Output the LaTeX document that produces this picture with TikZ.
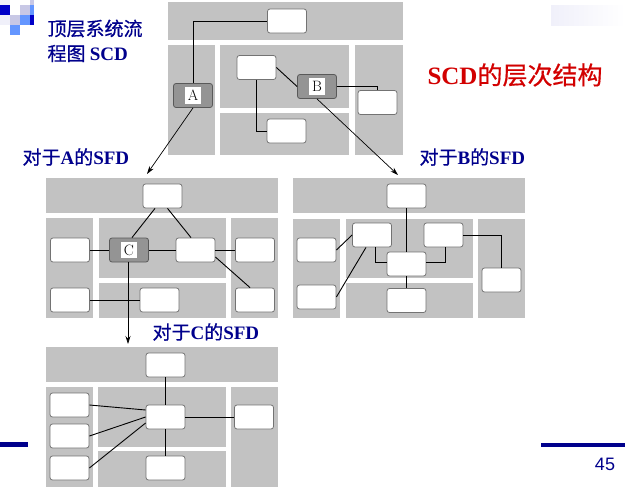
\documentclass[tikz,border=0pt]{standalone}
\usepackage{fontspec}
\newfontfamily\cjk[FakeBold=0.6]{Noto Sans CJK SC}
\newfontfamily\tms{Liberation Serif}
\newfontfamily\arl{Liberation Sans}
\usetikzlibrary{arrows.meta}
\definecolor{navy}{RGB}{0,0,140}
\definecolor{dred}{RGB}{210,0,0}
\definecolor{dkblue}{RGB}{0,0,200}
\definecolor{lav}{RGB}{200,200,230}
\definecolor{cfblue}{RGB}{100,150,255}
\definecolor{pale}{RGB}{240,240,250}
\tikzset{
  box/.style={draw=black!55, line width=0.8pt, fill=white, rounded corners=2.5pt,
    minimum width=39pt, minimum height=24pt, inner sep=0pt},
  gbox/.style={box, fill=black!42, draw=black!65, font=\fontsize{15}{15}\selectfont},
  panel/.style={fill=black!24},
  conn/.style={line width=0.9pt},
  arr/.style={line width=0.7pt, -{Stealth[length=8pt,width=5pt]}}
}
\begin{document}
\begin{tikzpicture}[x=1pt,y=-1pt]
\useasboundingbox (0,0) rectangle (625,490);

\fill[pale] (0,-5) rectangle (10,5);
\fill[lav] (30,-5) rectangle (34,5);
\fill[dkblue] (0,5) rectangle (10,15);
\fill[lav] (20,5) rectangle (30,15);
\fill[cfblue] (30,5) rectangle (34,15);
\fill[pale] (0,15) rectangle (10,25);
\fill[lav] (10,15) rectangle (20,25);
\fill[cfblue] (20,15) rectangle (30,25);
\fill[dkblue] (30,15) rectangle (34,25);
\fill[cfblue] (10,25) rectangle (20,35);
\shade[left color=pale, right color=white] (551,5) rectangle (625,25);

\fill[navy] (0,442) rectangle (28,447);
\fill[navy] (541,443) rectangle (625,447);
\node[navy, font=\arl\fontsize{18}{18}\selectfont] (pg) at (605,464) {45};

\node[navy, anchor=west, font=\fontsize{19}{19}\selectfont] (t1) at (44,28.5) {\cjk 顶层系统流};
\node[navy, anchor=west, font=\fontsize{19}{19}\selectfont] (t2) at (44,53.5) {\cjk 程图 \tms\bfseries SCD};
\node[dred, anchor=west, font=\fontsize{25}{25}\selectfont] (tt) at (424,75) {\tms\bfseries SCD\cjk\mdseries 的层次结构};

% SCD
\fill[panel] (168,2) rectangle (403,40);
\fill[panel] (168,45) rectangle (215,155);
\fill[panel] (220,45) rectangle (349,108);
\fill[panel] (220,113) rectangle (349,155);
\fill[panel] (355,45) rectangle (403,155);

\node[box] (s1) at (287,21) {};
\node[gbox] (sA) at (193,95.5) {\colorbox{white}{A}};
\node[box] (s2) at (256.5,67.5) {};
\node[gbox] (sB) at (317,86.5) {\colorbox{white}{B}};
\node[box] (s3) at (377.5,102.5) {};
\node[box] (s4) at (286.5,131) {};

\draw[conn] (sA.north) |- (s1.west);
\draw[conn] (s2.east) -- (sB.west);
\draw[conn] (s2.south) |- (s4.west);
\draw[conn] (sB.east) -| (s3.north);

% SFD of A
\fill[panel] (46,178) rectangle (278,213);
\fill[panel] (46,218) rectangle (93,318);
\fill[panel] (99,218) rectangle (226,278);
\fill[panel] (99,283) rectangle (226,318);
\fill[panel] (231,218) rectangle (278,318);

\node[box] (a1) at (162.5,196) {};
\node[gbox] (aC) at (129,250) {\colorbox{white}{C}};
\node[box] (a2) at (70,250) {};
\node[box] (a3) at (195.5,250) {};
\node[box] (a4) at (255,250) {};
\node[box] (a5) at (70,300) {};
\node[box] (a6) at (159.5,300) {};
\node[box] (a7) at (255,300) {};

\draw[conn] ([xshift=-7.5pt]a1.south) -- ([xshift=3pt]aC.north);
\draw[conn] ([xshift=5pt]a1.south) -- ([xshift=-4.5pt]a3.north);
\draw[conn] (a2.east) -- (aC.west);
\draw[conn] (aC.east) -- (a3.west);
\draw[conn] (a3.east) -- (a4.west);
\draw[conn] ([yshift=-7pt]a3.east) -- ([xshift=-5pt]a7.north);
\draw[conn] (a5.east) -- (a6.west);

% SFD of B
\fill[panel] (293,178) rectangle (525,213);
\fill[panel] (293,219) rectangle (340,318);
\fill[panel] (346,219) rectangle (473,278);
\fill[panel] (346,283) rectangle (473,318);
\fill[panel] (478,219) rectangle (525,318);

\node[box] (b1) at (406.5,196) {};
\node[box] (b2) at (372,235) {};
\node[box] (b3) at (443.5,235) {};
\node[box] (b4) at (406.5,264) {};
\node[box] (b5) at (406.5,300.5) {};
\node[box] (b6) at (316.5,250) {};
\node[box] (b7) at (316.5,297) {};
\node[box] (b8) at (501.5,280) {};

\draw[conn] (b1.south) -- (b4.north);
\draw[conn] ([xshift=3pt]b2.south) |- ([yshift=2pt]b4.west);
\draw[conn] ([xshift=1.5pt]b3.south) |- ([yshift=2pt]b4.east);
\draw[conn] (b4.south) -- (b5.north);
\draw[conn] (b6.east) -- (b2.west);
\draw[conn] (b7.east) -- ([xshift=-6pt]b2.south);
\draw[conn] (b3.east) -| (b8.north);

% SFD of C
\fill[panel] (46,347) rectangle (278,382);
\fill[panel] (46,387) rectangle (93,487);
\fill[panel] (98,387) rectangle (226,447);
\fill[panel] (98,451) rectangle (226,487);
\fill[panel] (231,387) rectangle (278,487);

\node[box] (c1) at (165.5,365) {};
\node[box] (c2) at (165.5,417) {};
\node[box] (c3) at (254,417) {};
\node[box] (c4) at (165.5,468) {};
\node[box] (c5) at (69.5,405) {};
\node[box] (c6) at (69.5,436) {};
\node[box] (c7) at (69.5,468) {};

\draw[conn] (c1.south) -- (c2.north);
\draw[conn] (c2.east) -- (c3.west);
\draw[conn] (c2.south) -- (c4.north);
\draw[conn] (c5.east) -- ([yshift=7pt]c2.west);
\draw[conn] (c6.east) -- (c2.west);
\draw[conn] (c7.east) -- ([yshift=-6pt]c2.west);

% links between levels
\coordinate (pA) at (147,174);
\coordinate (pB) at (398,175);
\coordinate (pC) at (128,344);
\draw[arr] (sA.south) -- (pA);
\draw[arr] (sB.south) -- (pB);
\draw[arr] ([xshift=-1pt]aC.south) -- (pC);

\node[navy, anchor=west, font=\fontsize{19}{19}\selectfont] (lA) at (19,157) {\cjk 对于\tms\bfseries A\cjk\mdseries 的\tms\bfseries SFD};
\node[navy, anchor=west, font=\fontsize{19}{19}\selectfont] (lB) at (416,157) {\cjk 对于\tms\bfseries B\cjk\mdseries 的\tms\bfseries SFD};
\node[navy, anchor=west, font=\fontsize{19}{19}\selectfont] (lC) at (149,332) {\cjk 对于\tms\bfseries C\cjk\mdseries 的\tms\bfseries SFD};
\end{tikzpicture}
\end{document}
